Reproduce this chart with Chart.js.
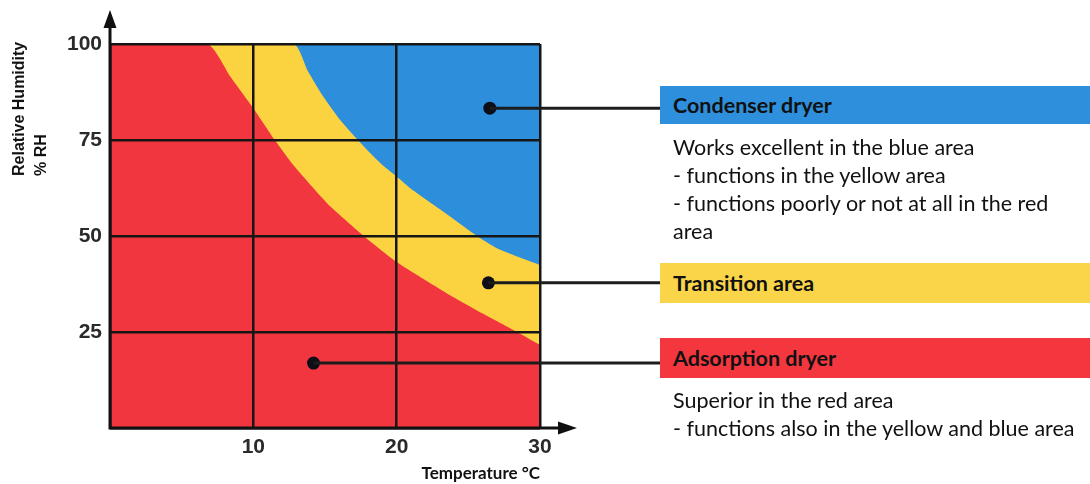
<!DOCTYPE html>
<html><head><meta charset="utf-8">
<script src="https://cdn.jsdelivr.net/npm/chart.js@4.4.1/dist/chart.umd.min.js"></script>
<style>
html,body{margin:0;padding:0;background:#fff;}
#wrap{position:relative;width:1090px;height:484px;overflow:hidden;}
#c{position:absolute;left:0;top:0;}
.ytitle{position:absolute;left:8px;top:176px;transform-origin:0 0;transform:rotate(-90deg);white-space:nowrap;font:bold 16px "Liberation Sans",Arial,sans-serif;line-height:22px;color:#111;}
.hdr{position:absolute;left:660px;width:430px;box-sizing:border-box;padding-left:13px;font:bold 21.5px Lato,sans-serif;color:#111;display:flex;align-items:center;}
.body{position:absolute;left:673px;font:21.5px Lato,sans-serif;line-height:28px;color:#111;white-space:nowrap;}
</style></head>
<body>
<div id="wrap">
<canvas id="c" width="1090" height="484"></canvas>
<div class="ytitle">Relative Humidity<br>% RH</div>
<div class="hdr" style="top:86px;height:38px;background:#2E90DD;">Condenser dryer</div>
<div class="body" style="top:133px;">Works excellent in the blue area<br>- functions in the yellow area<br>- functions poorly or not at all in the red<br>area</div>
<div class="hdr" style="top:263px;height:40px;background:#FAD54A;">Transition area</div>
<div class="hdr" style="top:338px;height:40px;background:#F4363F;">Adsorption dryer</div>
<div class="body" style="top:386px;">Superior in the red area<br>- functions also in the yellow and blue area</div>
</div>
<script>
// ---- data ----
const temperatureTicks = [10, 20, 30];
const humidityTicks = [25, 50, 75, 100];
// red / yellow boundary (adsorption region below)
const redEdgeT  = [0, 6.8, 8.4, 10, 11.5, 12.8, 14.3, 15.4, 17.7, 20, 22, 24, 26, 28.4, 30];
const redEdgeRH = [100, 100, 91.5, 83.3, 75, 68.4, 62, 57.6, 50, 43.2, 38.5, 34, 29.8, 25, 21.6];
// yellow / blue boundary (transition region below)
const blueEdgeT  = [0, 12.8, 13.8, 14.9, 16, 17.3, 18.1, 19, 20, 21, 23, 25.6, 27, 28.5, 30];
const blueEdgeRH = [100, 100, 93, 86.2, 80.5, 75, 71.8, 68.5, 65.5, 62.3, 57, 50, 46.8, 44.5, 42.4];
// whole field (condenser region)
const blueAreaT  = [0, 30];
const blueAreaRH = [100, 100];
// markers linking areas to the legend boxes
const markerNames = ['Condenser dryer', 'Transition area', 'Adsorption dryer'];
const markerT  = [26.5, 26.4, 14.2];
const markerRH = [83.3, 37.8, 16.9];

const pts = (xs, ys) => xs.map((x, i) => ({x, y: ys[i]}));
const panelLeft = 660;

const axisArrows = {
  id: 'axisArrows',
  afterDraw(chart) {
    const {ctx, chartArea: a} = chart;
    ctx.save();
    ctx.strokeStyle = '#111'; ctx.fillStyle = '#111'; ctx.lineWidth = 3;
    ctx.beginPath();
    ctx.moveTo(a.left, a.bottom + 1.5); ctx.lineTo(a.left, a.top - 18);
    ctx.moveTo(a.left - 1.5, a.bottom); ctx.lineTo(a.right + 22, a.bottom);
    ctx.stroke();
    ctx.beginPath();
    ctx.moveTo(a.left, a.top - 34); ctx.lineTo(a.left - 6.5, a.top - 16); ctx.lineTo(a.left + 6.5, a.top - 16); ctx.closePath(); ctx.fill();
    ctx.beginPath();
    ctx.moveTo(a.right + 37, a.bottom); ctx.lineTo(a.right + 18, a.bottom - 6.5); ctx.lineTo(a.right + 18, a.bottom + 6.5); ctx.closePath(); ctx.fill();
    // connectors from markers to legend boxes
    const xs = chart.scales.x, ys = chart.scales.y;
    ctx.lineWidth = 3; ctx.strokeStyle = '#1c1c1c';
    markerT.forEach((t, i) => {
      const px = xs.getPixelForValue(t), py = ys.getPixelForValue(markerRH[i]);
      ctx.beginPath(); ctx.moveTo(px, py); ctx.lineTo(panelLeft, py); ctx.stroke();
    });
    ctx.restore();
  }
};

const tickFont = {family: '"Liberation Sans", Arial, sans-serif', size: 21, weight: 'bold'};

new Chart(document.getElementById('c'), {
  type: 'line',
  data: {
    datasets: [
      {label: markerNames.join(' / '), type: 'scatter', data: pts(markerT, markerRH), showLine: false,
       pointRadius: 6.5, backgroundColor: '#0e0e18', borderWidth: 0, order: 0},
      {label: 'Adsorption', data: pts(redEdgeT, redEdgeRH), fill: 'origin', backgroundColor: '#F2363F',
       borderWidth: 0, pointRadius: 0, tension: 0.2, order: 1},
      {label: 'Transition', data: pts(blueEdgeT, blueEdgeRH), fill: 'origin', backgroundColor: '#FBD340',
       borderWidth: 0, pointRadius: 0, tension: 0.2, order: 2},
      {label: 'Condenser', data: pts(blueAreaT, blueAreaRH), fill: 'origin', backgroundColor: '#2D8EDC',
       borderWidth: 0, pointRadius: 0, order: 3}
    ]
  },
  options: {
    responsive: false, animation: false,
    layout: {padding: {top: 44, right: 550, left: 0, bottom: 0}},
    plugins: {legend: {display: false}, tooltip: {enabled: false}},
    scales: {
      x: {
        type: 'linear', min: 0, max: 30,
        afterFit(s) { s.height = 56; },
        ticks: {stepSize: 10, autoSkip: false, maxRotation: 0, padding: 7, color: '#2a2a2a', font: tickFont,
                callback: v => temperatureTicks.includes(v) ? String(v) : ''},
        grid: {color: '#161616', lineWidth: 2.5, drawTicks: false, z: 1},
        border: {display: false},
        title: {display: true, text: 'Temperature °C', align: 'end', color: '#111',
                font: {family: 'Lato, sans-serif', size: 17, weight: 'bold'}, padding: {top: 0, bottom: 0}}
      },
      y: {
        type: 'linear', min: 0, max: 100,
        afterFit(s) { s.width = 110; },
        ticks: {stepSize: 25, autoSkip: false, padding: 8, color: '#2a2a2a', font: tickFont,
                callback: v => humidityTicks.includes(v) ? String(v) : ''},
        grid: {color: '#161616', lineWidth: 2.5, drawTicks: false, z: 1},
        border: {display: false}
      }
    }
  },
  plugins: [axisArrows]
});
</script>
</body></html>
